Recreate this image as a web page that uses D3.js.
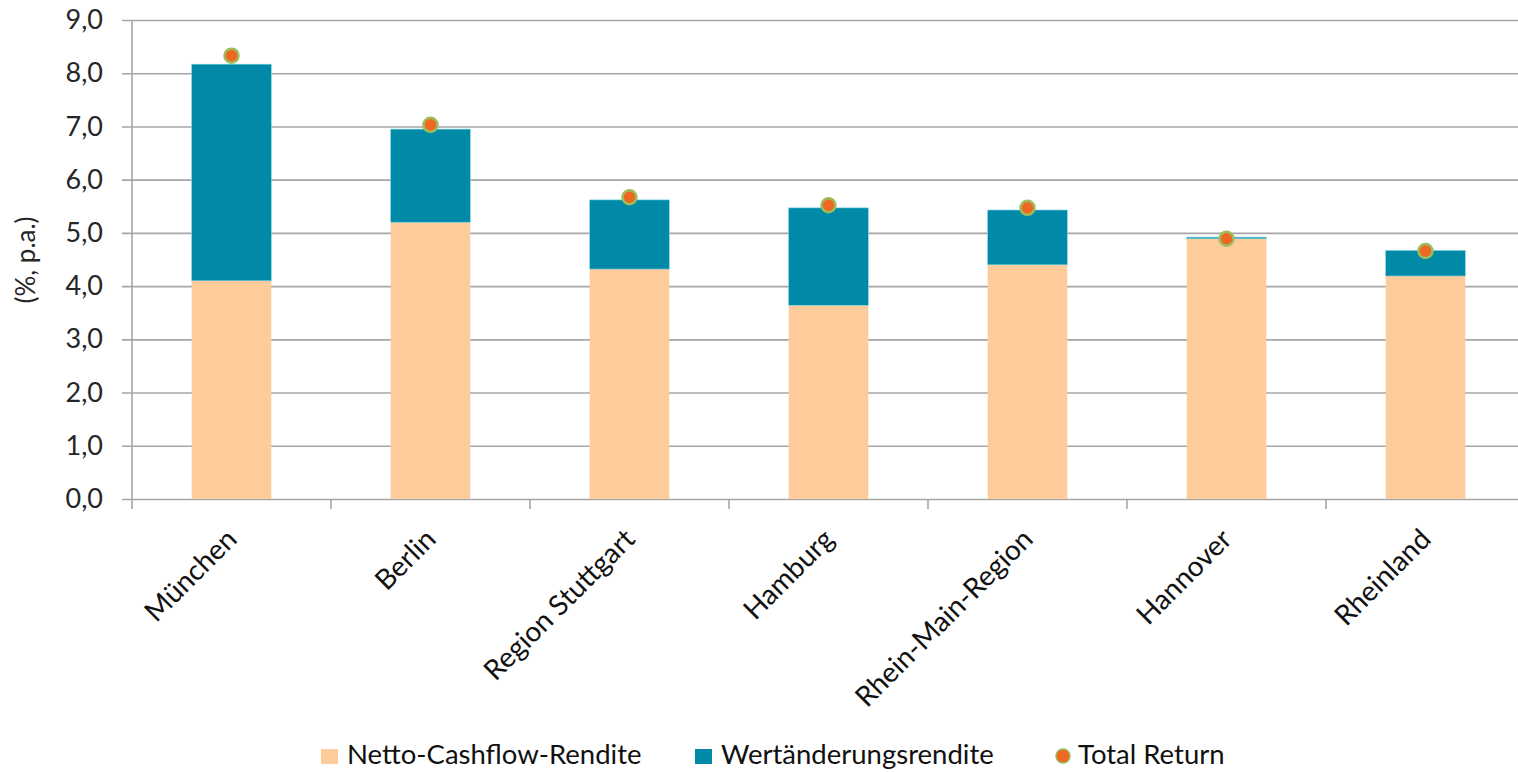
<!DOCTYPE html>
<html>
<head>
<meta charset="utf-8">
<script src="https://cdn.jsdelivr.net/npm/d3@7"></script>
<style>
  body { margin: 0; background: #fff; }
  svg { display: block; font-family: Lato, "Noto Sans", sans-serif; }
</style>
</head>
<body>
<div id="chart"></div>
<script>
// data
const regions = ["München", "Berlin", "Region Stuttgart", "Hamburg", "Rhein-Main-Region", "Hannover", "Rheinland"];
const cashflow = [4.10, 5.20, 4.32, 3.64, 4.40, 4.89, 4.19];
const valueChange = [4.07, 1.75, 1.30, 1.83, 1.03, 0.03, 0.48];
const totalReturn = [8.33, 7.03, 5.67, 5.52, 5.47, 4.89, 4.66];
const yTicks = [0, 1, 2, 3, 4, 5, 6, 7, 8, 9];
const legendLabels = ["Netto-Cashflow-Rendite", "Wertänderungsrendite", "Total Return"];

const width = 1518, height = 772;
const colors = { cash: "#FDCC9A", value: "#008AA8", dot: "#EE6723", dotRing: "#9DBC5A", grid: "#A6A6A6", text: "#262626" };

const margin = { left: 132, right: -7, top: 20, bottom: 273 };

const svg = d3.select("#chart")
  .append("svg")
    .attr("width", width)
    .attr("height", height);

const x = d3.scaleBand()
    .domain(regions)
    .range([margin.left, width - margin.right])
    .paddingInner(0.6)
    .paddingOuter(0.3);

const y = d3.scaleLinear()
    .domain([0, 9])
    .range([height - margin.bottom, margin.top]);

// grid lines + y ticks
const yAxis = d3.axisLeft(y)
    .tickValues(yTicks)
    .tickSize(-(width - margin.left + 10))
    .tickPadding(19)
    .tickFormat((d) => d3.format(".1f")(d).replace(".", ","));

const gy = svg.append("g")
    .attr("transform", `translate(${margin.left - 10},0)`)
    .call(yAxis);
gy.select(".domain").remove();
gy.selectAll("line")
    .attr("stroke", colors.grid)
    .attr("stroke-width", 1.6);
gy.selectAll("text")
    .attr("fill", colors.text)
    .style("font-family", "Lato, sans-serif")
    .style("font-size", "27px");

// vertical axis line
svg.append("line")
    .attr("x1", margin.left).attr("x2", margin.left)
    .attr("y1", y(9)).attr("y2", y(0) + 10)
    .attr("stroke", colors.grid)
    .attr("stroke-width", 1.6);

// category separator ticks under the baseline
const step = x.step();
svg.append("g")
  .selectAll("line")
    .data(regions)
  .enter()
    .append("line")
    .attr("x1", (d) => x(d) + x.bandwidth() / 2 + step / 2)
    .attr("x2", (d) => x(d) + x.bandwidth() / 2 + step / 2)
    .attr("y1", y(0))
    .attr("y2", y(0) + 10)
    .attr("stroke", colors.grid)
    .attr("stroke-width", 1.6);

// stacked bars
const bars = svg.append("g");
bars.selectAll("rect.cash")
    .data(regions)
  .enter()
    .append("rect")
    .attr("class", "cash")
    .attr("x", (d) => x(d))
    .attr("width", x.bandwidth())
    .attr("y", (d, i) => y(cashflow[i]))
    .attr("height", (d, i) => y(0) - y(cashflow[i]))
    .attr("fill", colors.cash);

bars.selectAll("rect.value")
    .data(regions)
  .enter()
    .append("rect")
    .attr("class", "value")
    .attr("x", (d) => x(d))
    .attr("width", x.bandwidth())
    .attr("y", (d, i) => y(cashflow[i] + valueChange[i]))
    .attr("height", (d, i) => y(cashflow[i]) - y(cashflow[i] + valueChange[i]))
    .attr("fill", colors.value)
    .attr("stroke", "#7FD3E3")
    .attr("stroke-width", 0.6);

// total return markers
svg.append("g")
  .selectAll("circle")
    .data(regions)
  .enter()
    .append("circle")
    .attr("cx", (d) => x(d) + x.bandwidth() / 2)
    .attr("cy", (d, i) => y(totalReturn[i]))
    .attr("r", 7)
    .attr("fill", colors.dot)
    .attr("stroke", colors.dotRing)
    .attr("stroke-width", 2.5);

// rotated category labels
svg.append("g")
  .selectAll("text")
    .data(regions)
  .enter()
    .append("text")
    .attr("transform", (d) => `translate(${x(d) + x.bandwidth() / 2 + 7},${y(0) + 42}) rotate(-45)`)
    .attr("text-anchor", "end")
    .attr("fill", "#111")
    .style("font-size", "28px")
    .text((d) => d);

// y axis title
svg.append("text")
    .attr("transform", `translate(35,${260}) rotate(-90)`)
    .attr("text-anchor", "middle")
    .attr("fill", colors.text)
    .style("font-size", "26px")
    .text("(%, p.a.)");

// legend
const legendX = [321, 695, 1054];
const legend = svg.append("g");
legend.append("rect")
    .attr("x", legendX[0]).attr("y", 749).attr("width", 17).attr("height", 15)
    .attr("fill", colors.cash);
legend.append("rect")
    .attr("x", legendX[1]).attr("y", 749).attr("width", 17).attr("height", 15)
    .attr("fill", colors.value);
legend.append("circle")
    .attr("cx", legendX[2] + 9).attr("cy", 756).attr("r", 7)
    .attr("fill", colors.dot)
    .attr("stroke", colors.dotRing)
    .attr("stroke-width", 1.5);
legend.selectAll("text")
    .data(legendLabels)
  .enter()
    .append("text")
    .attr("x", (d, i) => legendX[i] + (i === 2 ? 24 : 26))
    .attr("y", 764)
    .attr("fill", "#111")
    .style("font-size", "27.5px")
    .text((d) => d);
</script>
</body>
</html>
